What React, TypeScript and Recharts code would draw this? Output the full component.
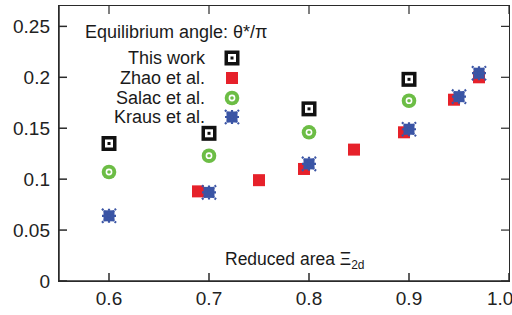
import React from "react";
import { ReferenceLine, Scatter, ScatterChart, XAxis, YAxis } from "recharts";

const thisWorkX = [0.6, 0.7, 0.8, 0.9];
const thisWorkY = [0.135, 0.145, 0.169, 0.198];
const salacX = [0.6, 0.7, 0.8, 0.9];
const salacY = [0.107, 0.123, 0.146, 0.177];
const zhaoX = [0.689, 0.75, 0.795, 0.845, 0.895, 0.945, 0.97];
const zhaoY = [0.088, 0.099, 0.11, 0.129, 0.146, 0.178, 0.2];
const krausX = [0.6, 0.7, 0.8, 0.9, 0.95, 0.97];
const krausY = [0.064, 0.087, 0.115, 0.149, 0.181, 0.204];

const xTicks = [0.6, 0.7, 0.8, 0.9, 1.0];
const yTicks = [0, 0.05, 0.1, 0.15, 0.2, 0.25];

const X_DOMAIN: [number, number] = [0.55, 1.0];
const Y_DOMAIN: [number, number] = [0, 0.27];

const FONT = '"Liberation Sans", Arial, sans-serif';
const RED = "#e6212a";
const GREEN = "#6cbd45";
const BLUE = "#3b55a5";
const AXIS = "#2a2a2a";

const zip = (xs: number[], ys: number[]) => xs.map((x, i) => ({ x, y: ys[i] }));

// marker glyphs, drawn around (cx, cy)
const BoxDot = ({ cx, cy }: any) => (
  <g>
    <rect x={cx - 7.5} y={cy - 7.5} width={15} height={15} fill="#111" />
    <rect x={cx - 4} y={cy - 4} width={8} height={8} fill="#fff" />
    <rect x={cx - 1.5} y={cy - 1.5} width={3} height={3} fill="#111" />
  </g>
);

const RedSquare = ({ cx, cy }: any) => (
  <rect x={cx - 6} y={cy - 6} width={12} height={12} fill={RED} />
);

const GreenRing = ({ cx, cy }: any) => (
  <g>
    <circle cx={cx} cy={cy} r={7.3} fill={GREEN} />
    <circle cx={cx} cy={cy} r={2.6} fill="none" stroke="#fff" strokeWidth={1.6} />
  </g>
);

const BlueStar = ({ cx, cy }: any) => (
  <g stroke={BLUE} strokeWidth={2.2} strokeDasharray="2 1">
    <rect x={cx - 5.5} y={cy - 5.5} width={11} height={11} fill={BLUE} stroke="none" />
    <line x1={cx - 7} y1={cy - 7} x2={cx + 7} y2={cy + 7} />
    <line x1={cx - 7} y1={cy + 7} x2={cx + 7} y2={cy - 7} />
    <line x1={cx - 7} y1={cy} x2={cx + 7} y2={cy} />
    <line x1={cx} y1={cy - 7} x2={cx} y2={cy + 7} />
  </g>
);

const legendRows = [
  { name: "This work", Shape: BoxDot, top: 58 },
  { name: "Zhao et al.", Shape: RedSquare, top: 78 },
  { name: "Salac et al.", Shape: GreenRing, top: 98 },
  { name: "Kraus et al.", Shape: BlueStar, top: 117 },
];

// legend + in-plot captions, laid over the chart
function LegendBox() {
  return (
    <div
      style={{
        position: "absolute",
        left: 0,
        top: 0,
        width: 512,
        height: 315,
        fontFamily: FONT,
        color: "#1a1a1a",
        pointerEvents: "none",
      }}
    >
      {/* plot frame */}
      <div
        style={{
          position: "absolute",
          left: 58,
          top: 5,
          width: 452,
          height: 277,
          boxSizing: "border-box",
          border: `1.5px solid ${AXIS}`,
        }}
      />
      <div style={{ position: "absolute", left: 85, top: 21, fontSize: 18, lineHeight: "22px", whiteSpace: "nowrap" }}>
        Equilibrium angle: θ*/π
      </div>
      {legendRows.map(({ name, Shape, top }) => (
        <React.Fragment key={name}>
          <div
            style={{
              position: "absolute",
              right: 512 - 205,
              top: top - 11,
              fontSize: 18,
              lineHeight: "22px",
              whiteSpace: "nowrap",
              textAlign: "right",
            }}
          >
            {name}
          </div>
          <svg style={{ position: "absolute", left: 232 - 9, top: top - 9 }} width={18} height={18}>
            <Shape cx={9} cy={9} />
          </svg>
        </React.Fragment>
      ))}
      <div style={{ position: "absolute", left: 225, top: 248, fontSize: 17.5, lineHeight: "22px", whiteSpace: "nowrap" }}>
        Reduced area Ξ<sub style={{ fontSize: 12, verticalAlign: "-4px" }}>2d</sub>
      </div>
    </div>
  );
}

// inward tick length for the mirrored top/right ticks, in data units (~8px)
const TICK_DX = 0.008;
const TICK_DY = 0.0078;

export default function App() {
  return (
    <div style={{ position: "absolute", left: 0, top: 0, width: 512, height: 315, background: "#fff" }}>
      <ScatterChart width={512} height={315} margin={{ top: 6, right: 3, bottom: 4, left: 9 }}>
        <XAxis
          type="number"
          dataKey="x"
          domain={X_DOMAIN}
          ticks={xTicks}
          allowDataOverflow
          tickFormatter={(v: number) => v.toFixed(1)}
          height={30}
          tickSize={-8}
          tickMargin={19}
          stroke={AXIS}
          strokeWidth={1.5}
          tick={{ fill: "#222", fontSize: 19, fontFamily: FONT }}
        />
        <YAxis
          type="number"
          dataKey="y"
          domain={Y_DOMAIN}
          ticks={yTicks}
          allowDataOverflow
          width={50}
          tickSize={-8}
          tickMargin={17}
          stroke={AXIS}
          strokeWidth={1.5}
          tick={{ fill: "#222", fontSize: 19, fontFamily: FONT }}
        />
        {/* mirrored inward ticks */}
        {xTicks.map((v) => (
          <ReferenceLine
            key={"tx" + v}
            segment={[
              { x: v, y: Y_DOMAIN[1] },
              { x: v, y: Y_DOMAIN[1] - TICK_DY },
            ]}
            stroke={AXIS}
            strokeWidth={1.2}
          />
        ))}
        {yTicks.map((v) => (
          <ReferenceLine
            key={"ty" + v}
            segment={[
              { x: X_DOMAIN[1], y: v },
              { x: X_DOMAIN[1] - TICK_DX, y: v },
            ]}
            stroke={AXIS}
            strokeWidth={1.2}
          />
        ))}
        <Scatter name="This work" data={zip(thisWorkX, thisWorkY)} shape={BoxDot} isAnimationActive={false} />
        <Scatter name="Zhao et al." data={zip(zhaoX, zhaoY)} shape={RedSquare} isAnimationActive={false} />
        <Scatter name="Salac et al." data={zip(salacX, salacY)} shape={GreenRing} isAnimationActive={false} />
        <Scatter name="Kraus et al." data={zip(krausX, krausY)} shape={BlueStar} isAnimationActive={false} />
      </ScatterChart>
      <LegendBox />
    </div>
  );
}
